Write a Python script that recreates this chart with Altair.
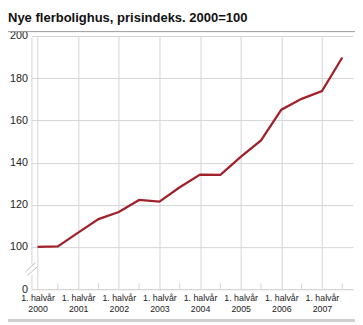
import altair as alt
import pandas as pd

# Half-year index (0 = 1. halvår 2000 ... 15 = 2. halvår 2007)
half_years = list(range(16))
index_values = [100.0, 100.3, 106.8, 113.2, 116.6, 122.3, 121.5, 128.3,
                134.3, 134.2, 142.7, 150.5, 165.1, 170.2, 173.9, 189.8]
tick_label_years = [2000, 2001, 2002, 2003, 2004, 2005, 2006, 2007]
title_text = "Nye flerbolighus, prisindeks. 2000=100"

df = pd.DataFrame({"idx": half_years, "value": index_values})
odd_df = pd.DataFrame({"idx": [i for i in half_years if i % 2 == 1]})
dummy = pd.DataFrame({"a": [0]})

W, H = 329, 259
FONT = "Liberation Sans"
GRID = "#d4d4d4"
LINE = "#a0212b"

xscale = alt.Scale(domain=[-0.3, 15.53], nice=False, zero=False)
yscale = alt.Scale(domain=[80, 200], nice=False, zero=False)

line = alt.Chart(df).mark_line(color=LINE, strokeWidth=2.3).encode(
    x=alt.X("idx:Q", scale=xscale,
            axis=alt.Axis(values=[0, 2, 4, 6, 8, 10, 12, 14], grid=True,
                          gridColor=GRID, ticks=False, domainColor=GRID,
                          labelExpr="['1. halvår', '' + (2000 + datum.value / 2)]",
                          labelFont=FONT, labelFontSize=9, labelLineHeight=10.7,
                          labelPadding=5, labelColor="#222", title=None,
                          labelOverlap=False, labelFlush=False)),
    y=alt.Y("value:Q", scale=yscale,
            axis=alt.Axis(values=[80, 100, 120, 140, 160, 180, 200], grid=True,
                          gridColor=GRID, ticks=False, domainColor=GRID,
                          labelExpr="datum.value == 80 ? '0' : datum.label",
                          labelFont=FONT, labelFontSize=11, labelPadding=4,
                          labelColor="#222", title=None,
                          labelOverlap=False, labelFlush=False)),
)

inner_ticks = alt.Chart(odd_df).mark_rule(color=GRID, strokeWidth=1).encode(
    x=alt.X("idx:Q", scale=xscale),
    y=alt.value(H), y2=alt.value(H - 6),
)

# axis break on the y axis
gap = alt.Chart(dummy).mark_rule(color="white", strokeWidth=4).encode(
    x=alt.value(0), y=alt.value(234), y2=alt.value(244))
brk1 = alt.Chart(dummy).mark_rule(color="#bbbbbb", strokeWidth=1).encode(
    x=alt.value(-6), x2=alt.value(4), y=alt.value(241), y2=alt.value(232))
brk2 = alt.Chart(dummy).mark_rule(color="#bbbbbb", strokeWidth=1).encode(
    x=alt.value(-4), x2=alt.value(6), y=alt.value(245), y2=alt.value(236))

title = alt.Chart(dummy).mark_text(
    text=title_text, align="left", baseline="alphabetic", font=FONT,
    fontSize=13.3, fontWeight="bold", color="#111"
).encode(x=alt.value(-24), y=alt.value(-14.5))

underline = alt.Chart(dummy).mark_rule(color="#999999", strokeWidth=1).encode(
    x=alt.value(-24), x2=alt.value(331), y=alt.value(-4.5))

bottom_bar = alt.Chart(dummy).mark_rule(color="#d0d0d0", strokeWidth=3).encode(
    x=alt.value(-24), x2=alt.value(331), y=alt.value(291))

chart = alt.layer(
    line, inner_ticks, gap, brk1, brk2, title, underline, bottom_bar
).properties(
    width=W, height=H,
    autosize=alt.AutoSizeParams(type="none"),
    padding={"left": 24, "top": 25, "right": 2, "bottom": 33},
).configure_view(stroke=None)

chart.save("out.html", embed_options={"renderer": "svg", "actions": False})
